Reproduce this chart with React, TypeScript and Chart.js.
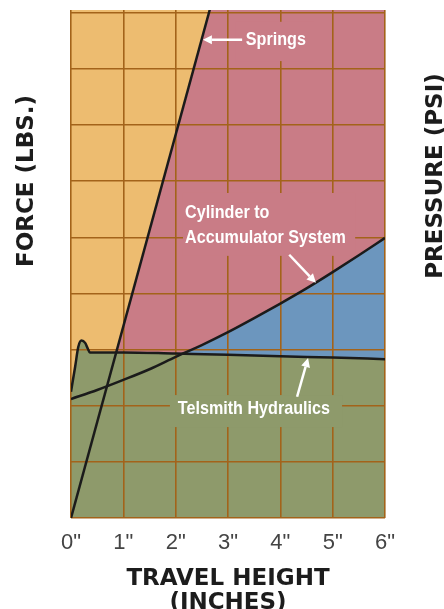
import React, { useEffect, useRef } from 'react';
import { Chart, registerables } from 'chart.js';

Chart.register(...registerables);

// ---- data (x = travel height in inches, y = force grid units) ----
const xTickValues = [0, 1, 2, 3, 4, 5, 6];
const xTickLabels = ['0"', '1"', '2"', '3"', '4"', '5"', '6"'];

const telsmithX = [0, 0.08, 0.14, 0.2, 0.27, 0.32, 0.36, 1, 2, 3, 4, 5, 6];
const telsmithY = [2.25, 2.7, 3.05, 3.16, 3.12, 3.02, 2.95, 2.95, 2.93, 2.91, 2.88, 2.86, 2.83];

const cylinderX = [0, 0.5, 1, 1.5, 2, 2.5, 3, 3.5, 4, 4.5, 5, 5.5, 6];
const cylinderY = [2.12, 2.28, 2.46, 2.65, 2.87, 3.08, 3.31, 3.56, 3.82, 4.09, 4.38, 4.68, 4.99];

const springsX = [0, 2.7];
const springsY = [0, 9.22];

const bgX = [0, 6];
const yMax = 9.05;
const bgY = [yMax, yMax];

const COLORS = {
  orange: '#EDBC70',
  pink: '#C97C86',
  blue: '#6C96BE',
  green: '#8E9A6B',
  grid: '#A3631A',
  line: '#1b1b1b',
};

// annotation positions in data units
const springsLabel = { text: 'Springs', x: 3.34, y: 8.52, box: [3.15, 8.84, 4.64, 8.14], arrow: [3.27, 8.52, 2.52, 8.52] };
const cylinderLabel = { lines: ['Cylinder to', 'Accumulator System'], x: 2.18, y1: 5.44, y2: 4.99, box: [2.14, 5.79, 5.43, 4.67], arrow: [4.17, 4.69, 4.68, 4.19] };
const telsmithLabel = { text: 'Telsmith Hydraulics', x: 2.04, y: 1.94, box: [1.89, 2.19, 5.18, 1.62], arrow: [4.32, 2.16, 4.53, 2.85] };

const toPts = (xs: number[], ys: number[]) => xs.map((x, i) => ({ x, y: ys[i] }));

const LABEL_FONT = 'bold 19px "Liberation Sans", Arial, sans-serif';
const LABEL_SQUEEZE = 0.85;
const TITLE_FONT = 'bold 23px "DejaVu Sans", sans-serif';

function drawArrow(ctx: CanvasRenderingContext2D, x1: number, y1: number, x2: number, y2: number) {
  const ang = Math.atan2(y2 - y1, x2 - x1);
  const len = 9;
  const hw = 4.5;
  const bx = x2 - len * Math.cos(ang);
  const by = y2 - len * Math.sin(ang);
  ctx.save();
  ctx.strokeStyle = '#ffffff';
  ctx.fillStyle = '#ffffff';
  ctx.lineWidth = 2.5;
  ctx.beginPath();
  ctx.moveTo(x1, y1);
  ctx.lineTo(bx, by);
  ctx.stroke();
  ctx.beginPath();
  ctx.moveTo(x2, y2);
  ctx.lineTo(bx + hw * Math.sin(ang), by - hw * Math.cos(ang));
  ctx.lineTo(bx - hw * Math.sin(ang), by + hw * Math.cos(ang));
  ctx.closePath();
  ctx.fill();
  ctx.restore();
}

function narrowText(ctx: CanvasRenderingContext2D, text: string, x: number, y: number) {
  ctx.save();
  ctx.translate(x, y);
  ctx.scale(LABEL_SQUEEZE, 1);
  ctx.fillText(text, 0, 0);
  ctx.restore();
}

const annotationPlugin = {
  id: 'annotations',
  afterDraw(chart: any) {
    const ctx: CanvasRenderingContext2D = chart.ctx;
    const xs = chart.scales.x;
    const ys = chart.scales.y;
    const px = (v: number) => xs.getPixelForValue(v);
    const py = (v: number) => ys.getPixelForValue(v);
    const box = (b: number[], color: string) => {
      ctx.fillStyle = color;
      ctx.fillRect(px(b[0]), py(b[1]), px(b[2]) - px(b[0]), py(b[3]) - py(b[1]));
    };
    ctx.save();
    box(springsLabel.box, COLORS.pink);
    box(cylinderLabel.box, COLORS.pink);
    box(telsmithLabel.box, COLORS.green);

    ctx.fillStyle = '#ffffff';
    ctx.font = LABEL_FONT;
    ctx.textAlign = 'left';
    ctx.textBaseline = 'middle';
    narrowText(ctx, springsLabel.text, px(springsLabel.x), py(springsLabel.y));
    narrowText(ctx, cylinderLabel.lines[0], px(cylinderLabel.x), py(cylinderLabel.y1));
    narrowText(ctx, cylinderLabel.lines[1], px(cylinderLabel.x), py(cylinderLabel.y2));
    narrowText(ctx, telsmithLabel.text, px(telsmithLabel.x), py(telsmithLabel.y));

    const a1 = springsLabel.arrow;
    drawArrow(ctx, px(a1[0]), py(a1[1]), px(a1[2]), py(a1[3]));
    const a2 = cylinderLabel.arrow;
    drawArrow(ctx, px(a2[0]), py(a2[1]), px(a2[2]), py(a2[3]));
    const a3 = telsmithLabel.arrow;
    drawArrow(ctx, px(a3[0]), py(a3[1]), px(a3[2]), py(a3[3]));

    // rotated axis titles
    ctx.fillStyle = '#1c1c1c';
    ctx.font = TITLE_FONT;
    ctx.textAlign = 'center';
    ctx.textBaseline = 'middle';
    ctx.save();
    ctx.translate(27, 181);
    ctx.rotate(-Math.PI / 2);
    ctx.fillText('FORCE (LBS.)', 0, 0);
    ctx.restore();
    ctx.save();
    ctx.translate(436, 176);
    ctx.rotate(-Math.PI / 2);
    ctx.fillText('PRESSURE (PSI)', 0, 0);
    ctx.restore();
    ctx.restore();
  },
};

export default function App() {
  const ref = useRef<HTMLCanvasElement | null>(null);
  useEffect(() => {
    if (!ref.current) return;
    const chart = new Chart(ref.current, {
      type: 'line',
      data: {
        datasets: [
          {
            label: 'Cylinder to Accumulator System',
            data: toPts(cylinderX, cylinderY),
            borderColor: COLORS.line,
            borderWidth: 2.5,
            backgroundColor: COLORS.blue,
            fill: { target: 1, above: COLORS.blue, below: 'rgba(0,0,0,0)' },
            pointRadius: 0,
            cubicInterpolationMode: 'monotone',
            clip: 0,
          },
          {
            label: 'Telsmith Hydraulics',
            data: toPts(telsmithX, telsmithY),
            borderColor: COLORS.line,
            borderWidth: 2.5,
            backgroundColor: COLORS.green,
            fill: 'start',
            pointRadius: 0,
            cubicInterpolationMode: 'monotone',
            clip: 0,
          },
          {
            label: 'Springs',
            data: toPts(springsX, springsY),
            borderColor: COLORS.line,
            borderWidth: 2.5,
            backgroundColor: COLORS.orange,
            fill: 'end',
            pointRadius: 0,
            clip: 0,
          },
          {
            label: 'background',
            data: toPts(bgX, bgY),
            borderWidth: 0,
            borderColor: 'rgba(0,0,0,0)',
            backgroundColor: COLORS.pink,
            fill: 'start',
            pointRadius: 0,
            clip: 0,
          },
        ],
      } as any,
      options: {
        responsive: false,
        animation: false,
        events: [],
        layout: { padding: { left: 71, right: 59, top: 10, bottom: 0 } },
        plugins: {
          legend: { display: false },
          tooltip: { enabled: false },
          filler: { drawTime: 'beforeDraw' },
        } as any,
        scales: {
          x: {
            type: 'linear',
            min: 0,
            max: 6,
            border: { display: false },
            grid: { color: COLORS.grid, lineWidth: 1.6, drawTicks: false },
            afterBuildTicks: (scale: any) => {
              scale.ticks = xTickValues.map((v) => ({ value: v }));
            },
            afterFit: (scale: any) => {
              scale.height = 102;
            },
            ticks: {
              padding: 12,
              color: '#444',
              font: { family: '"Liberation Sans", Arial, sans-serif', size: 22 },
              callback: (v: any) => xTickLabels[xTickValues.indexOf(Number(v))] ?? '',
            },
            title: {
              display: true,
              text: ['TRAVEL HEIGHT', '(INCHES)'],
              color: '#1c1c1c',
              font: { family: '"DejaVu Sans", sans-serif', weight: 'bold', size: 23, lineHeight: 24 / 23 },
              padding: { top: 0, bottom: 5 },
            },
          },
          y: {
            type: 'linear',
            min: 0,
            max: yMax,
            border: { display: false },
            grid: { color: COLORS.grid, lineWidth: 1.6, drawTicks: false },
            ticks: { display: false, stepSize: 1, includeBounds: false },
            afterFit: (scale: any) => {
              scale.width = 0;
            },
          },
        },
      } as any,
      plugins: [annotationPlugin],
    });
    return () => chart.destroy();
  }, []);

  return (
    <div style={{ position: 'fixed', left: 0, top: 0, width: 444, height: 609, overflow: 'hidden', background: '#fff' }}>
      <canvas ref={ref} width={444} height={620} style={{ display: 'block', width: 444, height: 620 }} />
    </div>
  );
}
